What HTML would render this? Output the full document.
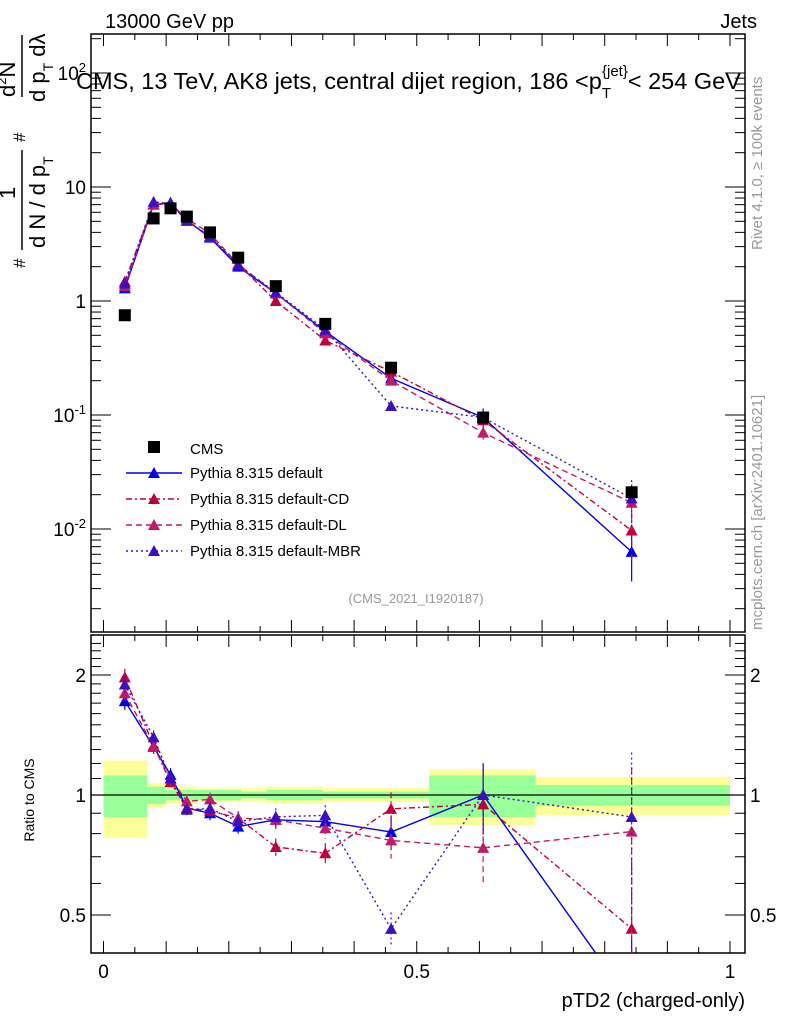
<!DOCTYPE html>
<html><head><meta charset="utf-8"><style>
html,body{margin:0;background:#fff;width:786px;height:1024px;overflow:hidden}
svg{font-family:"Liberation Sans",sans-serif;display:block}
</style></head><body>
<svg id="c" width="786" height="1024" xmlns="http://www.w3.org/2000/svg">
<text x="105" y="28" font-size="20">13000 GeV pp</text>
<text x="757" y="28" font-size="20" text-anchor="end">Jets</text>
<text x="76" y="89" font-size="23.5">CMS, 13 TeV, AK8 jets, central dijet region, 186 &lt;p<tspan font-size="15" dy="9">T</tspan><tspan font-size="15" dx="-9" dy="-22">{jet}</tspan><tspan dy="13">&lt; 254 GeV</tspan></text>
<text transform="translate(762,250) rotate(-90)" font-size="15" fill="#999">Rivet 4.1.0, ≥ 100k events</text>
<text transform="translate(762,630) rotate(-90)" font-size="15" fill="#999">mcplots.cern.ch [arXiv:2401.10621]</text>
<text x="416" y="603" font-size="13" fill="#999" text-anchor="middle">(CMS_2021_I1920187)</text>
<text transform="translate(34,800) rotate(-90)" font-size="14" text-anchor="middle">Ratio to CMS</text>
<text x="745" y="1007" font-size="20" text-anchor="end">pTD2 (charged-only)</text>
<g font-size="22">
<text transform="translate(25,268) rotate(-90)" font-size="17">#</text>
<text transform="translate(15,199) rotate(-90)">1</text>
<line x1="22" y1="250" x2="22" y2="150" stroke="#000" stroke-width="1.5"/>
<text transform="translate(45,248) rotate(-90)">d N / d p<tspan font-size="14" dy="8">T</tspan></text>
<text transform="translate(25,142) rotate(-90)" font-size="17">#</text>
<text transform="translate(15,97) rotate(-90)">d<tspan font-size="13" dy="-9">2</tspan><tspan dy="9">N</tspan></text>
<line x1="22" y1="97" x2="22" y2="35" stroke="#000" stroke-width="1.5"/>
<text transform="translate(45,102) rotate(-90)">d p<tspan font-size="14" dy="8">T</tspan><tspan dy="-8"> d</tspan>λ</text>
</g>
<g id="plot"></g>
</svg>
<script>
const xVals=[0.034,0.08,0.107,0.133,0.17,0.215,0.275,0.354,0.459,0.606,0.843];
const cmsVals=[0.75,5.3,6.5,5.5,4.0,2.4,1.35,0.63,0.26,0.095,0.021];
const defVals=[1.29,7.0,7.3,5.1,3.6,2.0,1.17,0.54,0.21,0.095,0.0063];
const cdVals=[1.48,7.05,7.0,5.1,3.65,2.1,1.0,0.45,0.24,0.09,0.0097];
const dlVals=[1.35,7.0,7.15,5.3,3.9,2.1,1.17,0.52,0.2,0.07,0.017];
const mbrVals=[1.42,7.4,7.15,5.05,3.7,2.06,1.19,0.56,0.12,0.095,0.0185];
const mcErr=[0.05,0.04,0.04,0.04,0.04,0.04,0.05,0.06,0.1,0.2,0.45];
const bandEdges=[0,0.07,0.1,0.15,0.22,0.26,0.35,0.52,0.69,1.0];
const band1=[0.12,0.05,0.03,0.03,0.02,0.03,0.02,0.12,0.06];
const band2=[0.22,0.07,0.05,0.04,0.04,0.05,0.04,0.16,0.11];
const xTicks=[0,0.5,1];
const yTicks=[-2,-1,0,1,2];
const rTicks=[0.5,1,2];
const NS='http://www.w3.org/2000/svg';
const g=document.getElementById('plot');
const X=v=>103.5+v*626.5;
const Y=v=>301-114*Math.log10(v);
const R=v=>795-120*Math.log2(v);
const L=91,Rt=745,T1=34,B1=632,T2=635,B2=953;
function mk(t,a,p){const e=document.createElementNS(NS,t);for(const k in a)e.setAttribute(k,a[k]);(p||g).appendChild(e);return e;}
for(let i=0;i<band1.length;i++){
 const x0=X(bandEdges[i]),x1=X(bandEdges[i+1]);
 let e=mk('rect',{x:x0,y:R(1+band2[i]),width:x1-x0,height:R(1-band2[i])-R(1+band2[i]),fill:'#ffff99'});
 
 
 e=mk('rect',{x:x0,y:R(1+band1[i]),width:x1-x0,height:R(1-band1[i])-R(1+band1[i]),fill:'#99ff99'});
 
 
}
mk('line',{x1:L,x2:Rt,y1:R(1),y2:R(1),stroke:'#000','stroke-width':1.2});
[[T1,B1],[T2,B2]].forEach(([t,b])=>{const e=mk('rect',{x:L,y:t,width:Rt-L,height:b-t,fill:'none',stroke:'#000','stroke-width':1.5});
 
 });
for(let v=0;v<=1.0001;v+=0.05){const big=Math.abs(v*10-Math.round(v*10))<1e-6;const h=big?12:6;
 [[B1,-1],[T1,1],[B2,-1],[T2,1]].forEach(([y,d])=>mk('line',{x1:X(v),x2:X(v),y1:y,y2:y+d*h,stroke:'#000'}));}
xTicks.forEach(v=>{const e=mk('text',{x:X(v),y:978,'font-size':19,'text-anchor':'middle'});e.textContent=v;
 
 });
for(let d=-3;d<=2;d++)for(let m=1;m<10;m++){const v=m*Math.pow(10,d);const y=Y(v);if(y<T1||y>B1)continue;const h=m==1?20:10;
 mk('line',{x1:L,x2:L+h,y1:y,y2:y,stroke:'#000'});mk('line',{x1:Rt,x2:Rt-h,y1:y,y2:y,stroke:'#000'});}
yTicks.forEach(p=>{const e=mk('text',{x:86,y:Y(Math.pow(10,p))+7,'font-size':19,'text-anchor':'end'});
 if(p==0)e.textContent='1';else if(p==1)e.textContent='10';else{e.textContent='10';const s=mk('tspan',{'font-size':13,dy:-8},e);s.textContent=p;}
 
 });
for(let v=0.4;v<=2.5;v+=0.1){const y=R(v);if(y<T2||y>B2)continue;const h=[0.5,1,2].some(t=>Math.abs(t-v)<1e-6)?20:10;
 mk('line',{x1:L,x2:L+h,y1:y,y2:y,stroke:'#000'});mk('line',{x1:Rt,x2:Rt-h,y1:y,y2:y,stroke:'#000'});}
rTicks.forEach(v=>{[[86,'end'],[750,'start']].forEach(([x,a])=>{const e=mk('text',{x:x,y:R(v)+7,'font-size':19,'text-anchor':a});e.textContent=v;
 
 });});
const defs=mk('defs',{});
const c1=mk('clipPath',{id:'cp1'},defs);mk('rect',{x:L,y:T1,width:Rt-L,height:B1-T1},c1);
const c2=mk('clipPath',{id:'cp2'},defs);mk('rect',{x:L,y:T2,width:Rt-L,height:B2-T2},c2);
const series=[
 {name:'pythia-default',vals:defVals,col:'#0000ee',dash:'',lab:'Pythia 8.315 default'},
 {name:'pythia-default-cd',vals:cdVals,col:'#c0003a',dash:'6,3,2,3',lab:'Pythia 8.315 default-CD'},
 {name:'pythia-default-dl',vals:dlVals,col:'#c01a6a',dash:'6,4',lab:'Pythia 8.315 default-DL'},
 {name:'pythia-default-mbr',vals:mbrVals,col:'#3c10c0',dash:'2,3',lab:'Pythia 8.315 default-MBR'}];
function tri(x,y,col,p,nm){const e=mk('path',{d:`M${x},${y-6}L${x+6},${y+5}L${x-6},${y+5}Z`,fill:col},p);}
const gt=mk('g',{'clip-path':'url(#cp1)'}),gr=mk('g',{'clip-path':'url(#cp2)'});
series.forEach(s=>{
 const pts=s.vals.map((v,i)=>X(xVals[i])+','+Y(v)).join(' ');
 let e=mk('polyline',{points:pts,fill:'none',stroke:s.col,'stroke-width':1.4,'stroke-dasharray':s.dash},gt);
 
 
 const rp=s.vals.map((v,i)=>X(xVals[i])+','+R(v/cmsVals[i])).join(' ');
 e=mk('polyline',{points:rp,fill:'none',stroke:s.col,'stroke-width':1.4,'stroke-dasharray':s.dash},gr);
 
 
 s.vals.forEach((v,i)=>{const x=X(xVals[i]),r=v/cmsVals[i];
  mk('line',{x1:x,x2:x,y1:Y(v*(1+mcErr[i])),y2:Y(v*(1-mcErr[i])),stroke:s.col,'stroke-width':1.2,'stroke-dasharray':s.dash},gt);
  mk('line',{x1:x,x2:x,y1:R(r*(1+mcErr[i])),y2:R(Math.max(r*(1-mcErr[i]),0.01)),stroke:s.col,'stroke-width':1.2,'stroke-dasharray':s.dash},gr);
  tri(x,Y(v),s.col,gt,s.name+'-point');
  tri(x,R(r),s.col,gr,s.name+'-ratio-point');});
});
cmsVals.forEach((v,i)=>{const e=mk('rect',{x:X(xVals[i])-6,y:Y(v)-6,width:12,height:12,fill:'#000'},gt);
 
 });
const lg=mk('g',{});
mk('rect',{x:148,y:441,width:12,height:12,fill:'#000'},lg);
let t0=mk('text',{x:190,y:454,'font-size':15},lg);t0.textContent='CMS';
series.forEach((s,i)=>{const y=473+i*26;
 mk('line',{x1:126,x2:182,y1:y,y2:y,stroke:s.col,'stroke-width':1.4,'stroke-dasharray':s.dash},lg);
 tri(154,y,s.col,lg,'legend-marker');
 const t=mk('text',{x:190,y:y+5,'font-size':15},lg);t.textContent=s.lab;
 
 });
</script>
</body></html>
